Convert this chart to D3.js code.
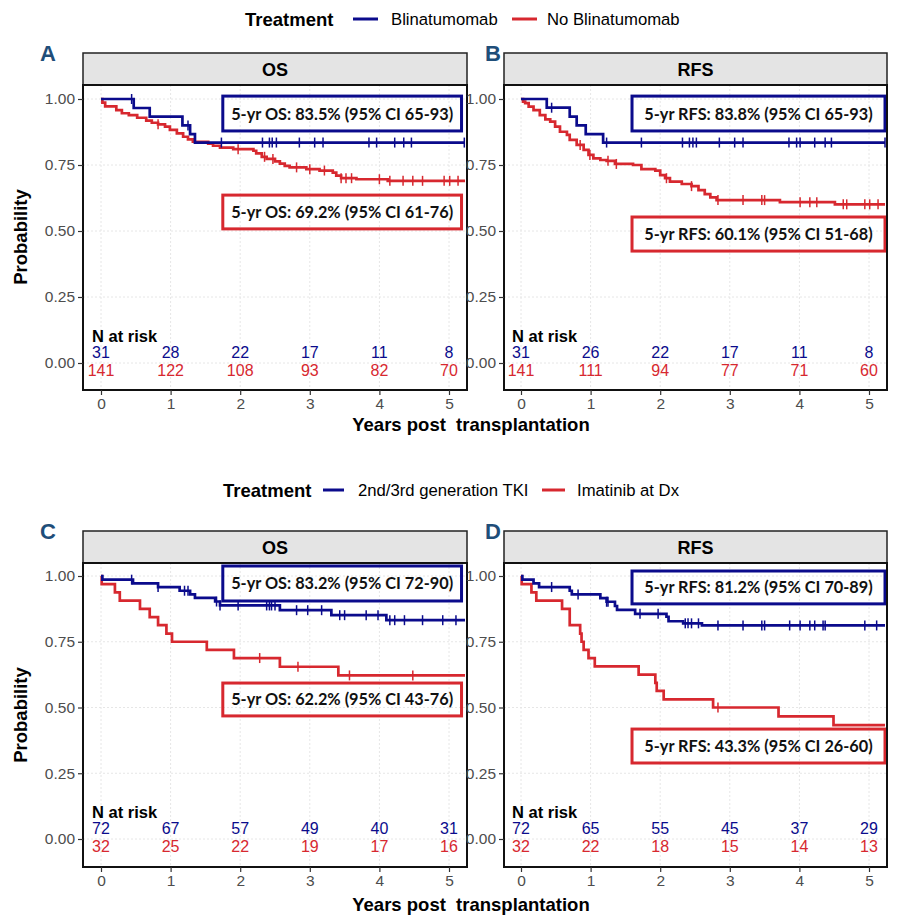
<!DOCTYPE html>
<meta charset="utf-8">
<script src="https://d3js.org/d3.v7.min.js"></script>
<style>
  body { margin: 0; background: #fff; }
  text { font-family: "Liberation Sans", Arial, sans-serif; }
</style>
<div id="chart"></div>
<script>

// axis ticks
const yearTicks = [0, 1, 2, 3, 4, 5];
const probTicks = [0, 0.25, 0.5, 0.75, 1];

// legends
const legendTop = ["Blinatumomab", "No Blinatumomab"];
const legendBottom = ["2nd/3rd generation TKI", "Imatinib at Dx"];

// --- Panel A: OS, Blinatumomab
const aBlueTime = [0, 0.47, 0.70, 1.17, 1.28, 1.35];
const aBlueSurv = [1, 0.966, 0.933, 0.900, 0.867, 0.835];
const aBlueCens = [0.44, 1.25, 1.73, 2.32, 2.42, 2.46, 2.52, 2.85, 3.07, 3.19, 3.85, 3.96, 4.22, 4.35, 4.46, 5.22];
const aRedTime = [0, 0.02, 0.06, 0.22, 0.30, 0.40, 0.52, 0.65, 0.73, 0.82, 0.92, 0.99, 1.09, 1.18, 1.25, 1.32, 1.54, 1.61, 1.71, 1.90, 2.19, 2.23, 2.31, 2.38, 2.50, 2.57, 2.64, 2.71, 2.95, 3.14, 3.33, 3.38, 3.45, 3.67, 4.12];
const aRedSurv = [1, 0.986, 0.972, 0.958, 0.946, 0.939, 0.929, 0.918, 0.910, 0.904, 0.895, 0.883, 0.870, 0.857, 0.847, 0.838, 0.831, 0.823, 0.816, 0.810, 0.804, 0.794, 0.781, 0.773, 0.764, 0.755, 0.747, 0.741, 0.734, 0.729, 0.721, 0.710, 0.700, 0.696, 0.690];
const aRedCens = [0.82, 1.97, 2.35, 2.47, 2.81, 3.00, 3.21, 3.45, 3.52, 3.60, 4.00, 4.15, 4.34, 4.48, 4.62, 4.93, 5.01, 5.13];
const aRiskBlue = [31, 28, 22, 17, 11, 8];
const aRiskRed = [141, 122, 108, 93, 82, 70];
const aLabels = ["5-yr OS: 83.5% (95% CI 65-93)", "5-yr OS: 69.2% (95% CI 61-76)"];

// --- Panel B: RFS, Blinatumomab
const bBlueTime = [0, 0.37, 0.70, 0.80, 0.93, 1.18];
const bBlueSurv = [1, 0.967, 0.933, 0.900, 0.867, 0.835];
const bBlueCens = [0.44, 1.23, 1.73, 2.32, 2.42, 2.47, 2.52, 2.85, 3.07, 3.19, 3.85, 3.96, 4.01, 4.22, 4.37, 4.46, 5.23];
const bRedTime = [0, 0.03, 0.06, 0.11, 0.18, 0.27, 0.35, 0.42, 0.49, 0.56, 0.66, 0.70, 0.80, 0.90, 0.97, 1.04, 1.14, 1.23, 1.35, 1.61, 1.73, 1.93, 2.00, 2.07, 2.14, 2.31, 2.45, 2.55, 2.64, 2.72, 2.81, 3.72, 4.51];
const bRedSurv = [1, 0.99, 0.984, 0.971, 0.958, 0.939, 0.923, 0.914, 0.895, 0.876, 0.864, 0.845, 0.826, 0.807, 0.788, 0.775, 0.769, 0.766, 0.754, 0.750, 0.734, 0.729, 0.712, 0.700, 0.687, 0.678, 0.670, 0.655, 0.640, 0.627, 0.617, 0.609, 0.601];
const bRedCens = [0.85, 0.99, 1.25, 1.37, 2.09, 2.45, 2.83, 3.19, 3.46, 3.50, 4.01, 4.15, 4.25, 4.63, 4.68, 4.94, 5.01, 5.13];
const bRiskBlue = [31, 26, 22, 17, 11, 8];
const bRiskRed = [141, 111, 94, 77, 71, 60];
const bLabels = ["5-yr RFS: 83.8% (95% CI 65-93)", "5-yr RFS: 60.1% (95% CI 51-68)"];

// --- Panel C: OS, TKI
const cBlueTime = [0, 0.02, 0.46, 0.82, 1.13, 1.28, 1.35, 1.64, 1.71, 2.57, 3.31, 4.10];
const cBlueSurv = [1, 0.986, 0.972, 0.958, 0.944, 0.930, 0.917, 0.903, 0.888, 0.870, 0.851, 0.832];
const cBlueCens = [0.44, 0.82, 1.20, 1.25, 1.66, 1.71, 1.97, 2.38, 2.42, 2.45, 2.50, 2.81, 2.97, 3.17, 3.43, 3.50, 3.81, 3.98, 4.15, 4.22, 4.36, 4.62, 4.91, 5.10];
const cRedTime = [0, 0.01, 0.20, 0.27, 0.56, 0.70, 0.82, 0.94, 1.02, 1.52, 1.91, 2.57, 3.41];
const cRedSurv = [1, 0.969, 0.938, 0.906, 0.875, 0.844, 0.813, 0.781, 0.750, 0.719, 0.688, 0.655, 0.622];
const cRedCens = [2.28, 2.83, 3.57, 4.48];
const cRiskBlue = [72, 67, 57, 49, 40, 31];
const cRiskRed = [32, 25, 22, 19, 17, 16];
const cLabels = ["5-yr OS: 83.2% (95% CI 72-90)", "5-yr OS: 62.2% (95% CI 43-76)"];

// --- Panel D: RFS, TKI
const dBlueTime = [0, 0.02, 0.18, 0.26, 0.70, 0.73, 1.14, 1.23, 1.35, 1.38, 1.64, 2.09, 2.12, 2.33, 2.60];
const dBlueSurv = [1, 0.986, 0.972, 0.958, 0.944, 0.930, 0.916, 0.902, 0.886, 0.871, 0.856, 0.845, 0.828, 0.820, 0.812];
const dBlueCens = [0.44, 0.82, 1.23, 1.25, 1.71, 1.97, 2.36, 2.40, 2.45, 2.55, 2.83, 3.19, 3.46, 3.50, 3.86, 4.01, 4.15, 4.22, 4.34, 4.37, 4.94, 5.11];
const dRedTime = [0, 0.01, 0.15, 0.22, 0.59, 0.70, 0.85, 0.87, 0.90, 0.97, 1.06, 1.69, 1.93, 1.95, 2.05, 2.76, 3.70, 4.49];
const dRedSurv = [1, 0.969, 0.938, 0.906, 0.875, 0.813, 0.781, 0.750, 0.719, 0.688, 0.656, 0.625, 0.594, 0.563, 0.531, 0.500, 0.466, 0.433];
const dRedCens = [2.83];
const dRiskBlue = [72, 65, 55, 45, 37, 29];
const dRiskRed = [32, 22, 18, 15, 14, 13];
const dLabels = ["5-yr RFS: 81.2% (95% CI 70-89)", "5-yr RFS: 43.3% (95% CI 26-60)"];

const BLUE = "#0b0b8c", RED = "#d7282f", LETTER = "#1f4e79";
const END = 5.23;

const svg = d3.select("#chart").append("svg")
  .attr("width", 900).attr("height", 924);

// step value of the curve at time t
function survAt(times, surv, t) {
  let i = d3.bisectRight(times, t) - 1;
  return surv[Math.max(0, i)];
}

function drawPanel(p) {
  const x = d3.scaleLinear().domain([0, 5]).range([p.x0, p.x5]);
  const y = d3.scaleLinear().domain([0, 1]).range([p.y0, p.y1]);
  const g = svg.append("g");

  // grid
  g.selectAll(".gy").data(probTicks).join("line")
    .attr("x1", p.left).attr("x2", p.right)
    .attr("y1", d => y(d)).attr("y2", d => y(d))
    .attr("stroke", "#e6e6e6").attr("stroke-dasharray", "2,2");
  g.selectAll(".gx").data(yearTicks).join("line")
    .attr("x1", d => x(d)).attr("x2", d => x(d))
    .attr("y1", p.top).attr("y2", p.bottom)
    .attr("stroke", "#e6e6e6").attr("stroke-dasharray", "2,2");

  // strip
  g.append("rect").attr("x", p.left).attr("y", p.stripTop)
    .attr("width", p.right - p.left).attr("height", p.top - p.stripTop)
    .attr("fill", "#e4e4e4").attr("stroke", "#222").attr("stroke-width", 1.5);
  g.append("text").attr("x", (p.left + p.right) / 2).attr("y", p.stripTop + 22.5)
    .attr("text-anchor", "middle").attr("font-weight", "bold").attr("font-size", 18)
    .text(p.title);

  // panel letter
  svg.append("text").attr("x", p.letterX).attr("y", p.stripTop + 8)
    .attr("font-weight", "bold").attr("font-size", 22).attr("fill", LETTER)
    .text(p.letter);

  // curves
  const line = d3.line().curve(d3.curveStepAfter).x(d => x(d[0])).y(d => y(d[1]));
  p.curves.forEach(c => {
    const pts = c.time.map((t, i) => [t, c.surv[i]]);
    pts.push([END, c.surv[c.surv.length - 1]]);
    g.append("path").datum(pts).attr("d", line)
      .attr("fill", "none").attr("stroke", c.color).attr("stroke-width", 2.7);
    g.selectAll(null).data(c.cens).join("line")
      .attr("x1", d => x(d)).attr("x2", d => x(d))
      .attr("y1", d => y(survAt(c.time, c.surv, d)) - 5)
      .attr("y2", d => y(survAt(c.time, c.surv, d)) + 5)
      .attr("stroke", c.color).attr("stroke-width", 1.5);
  });

  // annotation boxes
  p.boxes.forEach(b => {
    g.append("rect").attr("x", x(b.t0)).attr("y", y(b.s0))
      .attr("width", x(b.t1) - x(b.t0)).attr("height", y(b.s1) - y(b.s0))
      .attr("fill", "none").attr("stroke", b.color).attr("stroke-width", 3);
    g.append("text").attr("x", (x(b.t0) + x(b.t1)) / 2).attr("y", (y(b.s0) + y(b.s1)) / 2 + 6)
      .attr("text-anchor", "middle").attr("font-size", 16.3).attr("font-weight", 700)
      .style("font-family", "Lato, 'Open Sans', sans-serif").attr("fill", "#111")
      .text(b.label);
  });

  // numbers at risk
  g.append("text").attr("x", x(0) - 9).attr("y", y(0) - 21)
    .attr("font-weight", "bold").attr("font-size", 16.5).text("N at risk");
  g.selectAll(null).data(p.riskBlue).join("text")
    .attr("x", (d, i) => x(yearTicks[i])).attr("y", y(0) - 5)
    .attr("text-anchor", "middle").attr("font-size", 16).attr("fill", BLUE).text(d => d);
  g.selectAll(null).data(p.riskRed).join("text")
    .attr("x", (d, i) => x(yearTicks[i])).attr("y", y(0) + 13)
    .attr("text-anchor", "middle").attr("font-size", 16).attr("fill", RED).text(d => d);

  // frame
  g.append("rect").attr("x", p.left).attr("y", p.top)
    .attr("width", p.right - p.left).attr("height", p.bottom - p.top)
    .attr("fill", "none").attr("stroke", "#111").attr("stroke-width", 2);

  // axes
  const ya = g.append("g").attr("transform", `translate(${p.left},0)`)
    .call(d3.axisLeft(y).tickValues(probTicks).tickFormat(d3.format(".2f")).tickSize(5).tickPadding(3));
  const xa = g.append("g").attr("transform", `translate(0,${p.bottom})`)
    .call(d3.axisBottom(x).tickValues(yearTicks).tickFormat(d3.format("d")).tickSize(5).tickPadding(3));
  [ya, xa].forEach(a => {
    a.select(".domain").remove();
    a.selectAll("line").attr("stroke", "#333").attr("stroke-width", 1.2);
    a.selectAll("text").attr("font-size", 15.5).attr("fill", "#4d4d4d")
      .style("font-family", "'Liberation Sans', Arial, sans-serif");
  });
}

function drawLegend(yc, items, pos) {
  const g = svg.append("g");
  g.append("text").attr("x", pos.title).attr("y", yc + 6.5)
    .attr("font-weight", "bold").attr("font-size", 18.5).text("Treatment");
  items.forEach((lab, i) => {
    const col = i === 0 ? BLUE : RED;
    g.append("line").attr("x1", pos.sw[i][0]).attr("x2", pos.sw[i][1])
      .attr("y1", yc).attr("y2", yc).attr("stroke", col).attr("stroke-width", 3);
    g.append("text").attr("x", pos.lab[i]).attr("y", yc + 5.5)
      .attr("font-size", 16.7).text(lab);
  });
}

drawLegend(19, legendTop, {title: 245, sw: [[353, 378], [512, 537]], lab: [391, 547]});
drawLegend(490, legendBottom, {title: 223, sw: [[323, 344], [542, 565]], lab: [358, 577]});

const leftCol = {left: 83, right: 467, x0: 101, x5: 449, letterX: 40};
const rightCol = {left: 504, right: 887, x0: 521, x5: 869, letterX: 485};
const topRow = {stripTop: 53, top: 85, bottom: 390, y0: 363, y1: 99};
const botRow = {stripTop: 531, top: 563, bottom: 867, y0: 839, y1: 576};

drawPanel(Object.assign({}, leftCol, topRow, {
  title: "OS", letter: "A",
  curves: [
    {time: aRedTime, surv: aRedSurv, cens: aRedCens, color: RED},
    {time: aBlueTime, surv: aBlueSurv, cens: aBlueCens, color: BLUE}],
  boxes: [
    {t0: 1.75, t1: 5.18, s0: 1.011, s1: 0.879, color: BLUE, label: aLabels[0]},
    {t0: 1.75, t1: 5.18, s0: 0.636, s1: 0.508, color: RED, label: aLabels[1]}],
  riskBlue: aRiskBlue, riskRed: aRiskRed
}));
drawPanel(Object.assign({}, rightCol, topRow, {
  title: "RFS", letter: "B",
  curves: [
    {time: bRedTime, surv: bRedSurv, cens: bRedCens, color: RED},
    {time: bBlueTime, surv: bBlueSurv, cens: bBlueCens, color: BLUE}],
  boxes: [
    {t0: 1.595, t1: 5.23, s0: 1.011, s1: 0.879, color: BLUE, label: bLabels[0]},
    {t0: 1.595, t1: 5.23, s0: 0.553, s1: 0.424, color: RED, label: bLabels[1]}],
  riskBlue: bRiskBlue, riskRed: bRiskRed
}));
drawPanel(Object.assign({}, leftCol, botRow, {
  title: "OS", letter: "C",
  curves: [
    {time: cRedTime, surv: cRedSurv, cens: cRedCens, color: RED},
    {time: cBlueTime, surv: cBlueSurv, cens: cBlueCens, color: BLUE}],
  boxes: [
    {t0: 1.75, t1: 5.18, s0: 1.038, s1: 0.905, color: BLUE, label: cLabels[0]},
    {t0: 1.75, t1: 5.18, s0: 0.593, s1: 0.468, color: RED, label: cLabels[1]}],
  riskBlue: cRiskBlue, riskRed: cRiskRed
}));
drawPanel(Object.assign({}, rightCol, botRow, {
  title: "RFS", letter: "D",
  curves: [
    {time: dRedTime, surv: dRedSurv, cens: dRedCens, color: RED},
    {time: dBlueTime, surv: dBlueSurv, cens: dBlueCens, color: BLUE}],
  boxes: [
    {t0: 1.595, t1: 5.23, s0: 1.019, s1: 0.894, color: BLUE, label: dLabels[0]},
    {t0: 1.595, t1: 5.23, s0: 0.418, s1: 0.289, color: RED, label: dLabels[1]}],
  riskBlue: dRiskBlue, riskRed: dRiskRed
}));

// axis titles
[237, 715].forEach(cy => {
  svg.append("text").attr("transform", `translate(27,${cy}) rotate(-90)`)
    .attr("text-anchor", "middle").attr("font-weight", "bold").attr("font-size", 18.5)
    .text("Probability");
});
[431, 911].forEach(by => {
  svg.append("text").attr("x", 471).attr("y", by).style("white-space", "pre")
    .attr("text-anchor", "middle").attr("font-weight", "bold").attr("font-size", 18.5)
    .text("Years post  transplantation");
});
</script>
